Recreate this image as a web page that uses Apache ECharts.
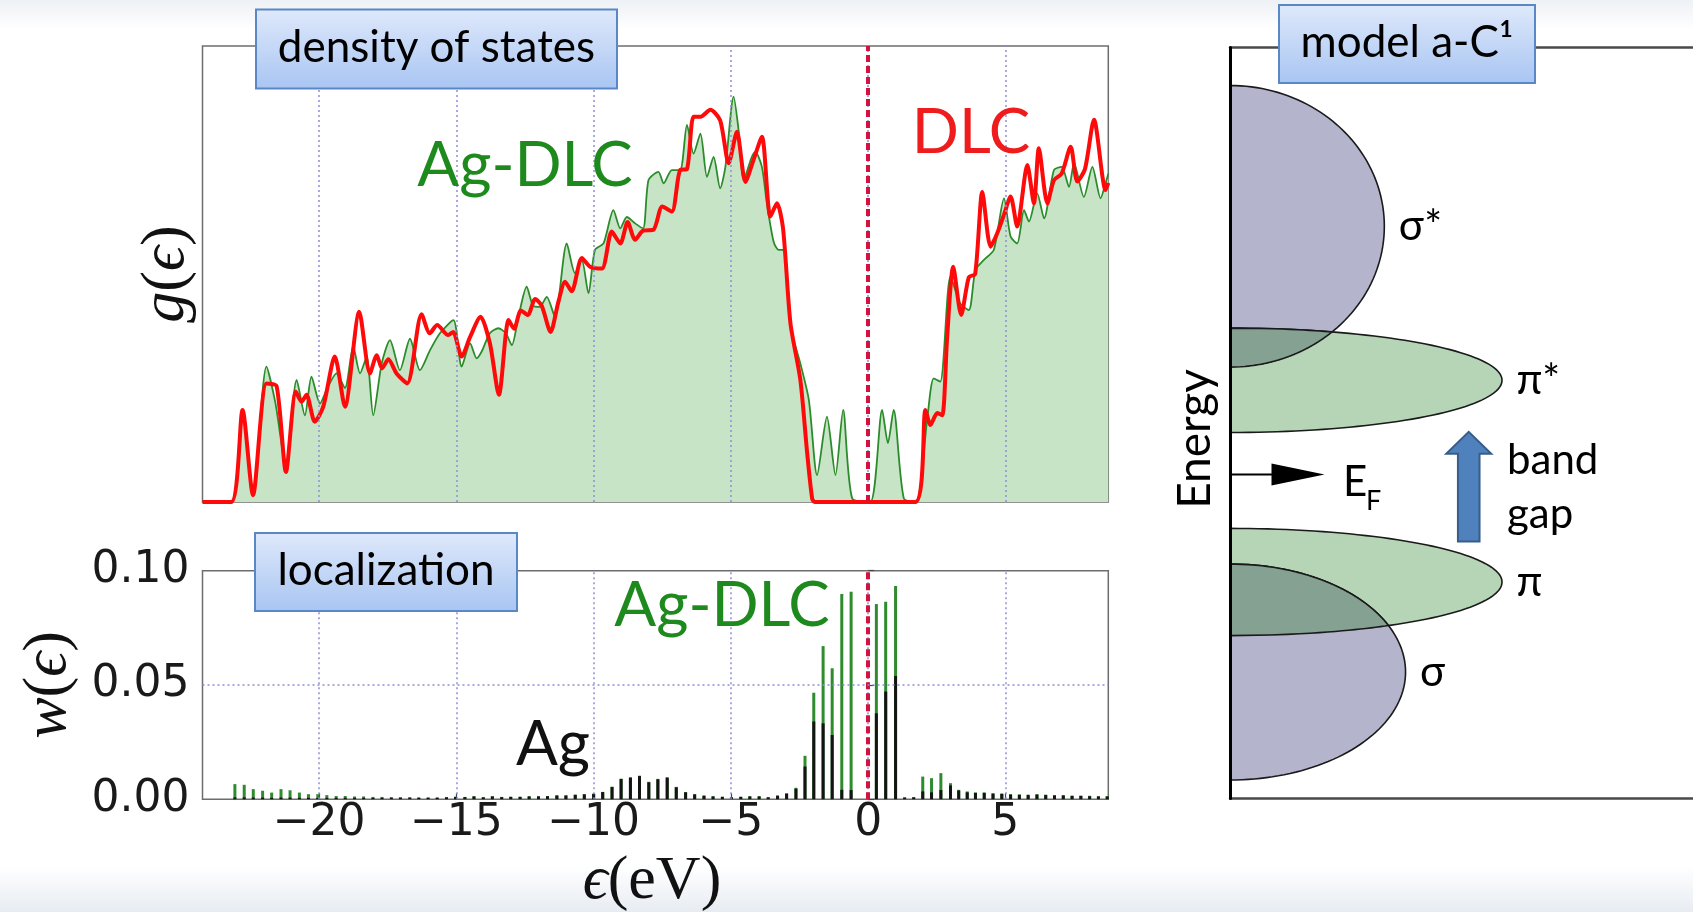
<!DOCTYPE html>
<html><head><meta charset="utf-8">
<script src="https://cdn.jsdelivr.net/npm/echarts@6/dist/echarts.min.js"></script>
<style>html,body{margin:0;padding:0;background:#fff}#c{width:1693px;height:912px}</style>
</head><body><div id="c"></div>
<script>
// ---------- data ----------
const xTicks = [-20, -15, -10, -5, 0, 5];
const wTicks = [0, 0.05, 0.10];

// DLC density of states (red)
const dlcE = [-24.25,-23.2,-22.79,-22.41,-21.92,-21.55,-21.21,-20.85,-20.64,-20.46,-20.16,-19.85,-19.43,-19.06,-18.54,-18.15,-17.9,-17.71,-17.48,-17.18,-16.79,-16.27,-15.97,-15.7,-15.3,-15.12,-14.81,-14.5,-14.12,-13.78,-13.45,-13.1,-12.9,-12.65,-12.4,-12.13,-11.89,-11.57,-11.28,-11.04,-10.8,-10.43,-10.13,-9.7,-9.34,-9.03,-8.76,-8.49,-8.2,-7.82,-7.5,-7.15,-6.85,-6.6,-6.36,-6.1,-5.75,-5.39,-5.08,-4.78,-4.47,-4.17,-3.87,-3.56,-3.32,-3.1,-2.83,-2.47,-2.22,-2.04,-1.95,1.72,2.09,2.27,2.52,2.7,2.88,3.1,3.39,3.67,3.9,4.16,4.46,4.7,4.95,5.19,5.43,5.8,6.04,6.22,6.53,6.77,7.05,7.38,7.62,7.9,8.23,8.65,8.75];
const dlcG = [0,0,0.202,0.015,0.26,0.254,0.066,0.242,0.22,0.235,0.176,0.209,0.319,0.209,0.417,0.282,0.322,0.293,0.313,0.282,0.26,0.412,0.37,0.388,0.366,0.373,0.319,0.362,0.406,0.348,0.235,0.399,0.38,0.42,0.41,0.445,0.43,0.373,0.44,0.483,0.462,0.535,0.516,0.512,0.593,0.567,0.614,0.575,0.595,0.597,0.648,0.637,0.728,0.73,0.845,0.845,0.86,0.837,0.743,0.812,0.702,0.751,0.801,0.626,0.655,0.6,0.392,0.268,0.107,0.008,0,0,0.202,0.169,0.195,0.19,0.362,0.516,0.41,0.493,0.5,0.68,0.56,0.589,0.63,0.67,0.604,0.739,0.655,0.776,0.655,0.706,0.72,0.779,0.703,0.73,0.838,0.684,0.7];

// Ag-DLC density of states (green, filled)
const agdlcE = [-24.25,-23.2,-22.79,-22.41,-21.92,-21.6,-21.21,-20.82,-20.52,-20.28,-19.97,-19.7,-19.37,-19.06,-18.76,-18.51,-18.27,-18.03,-17.72,-17.42,-17.06,-16.69,-16.33,-15.96,-15.6,-15.11,-14.81,-14.5,-14.26,-14.08,-13.78,-13.47,-13.2,-12.98,-12.74,-12.44,-12.2,-11.96,-11.71,-11.41,-10.98,-10.68,-10.43,-10.19,-9.95,-9.64,-9.28,-9.03,-8.79,-8.49,-8.2,-8.0,-7.64,-7.45,-7.15,-6.85,-6.6,-6.36,-6.11,-5.87,-5.63,-5.39,-5.2,-4.9,-4.72,-4.53,-4.25,-4.11,-3.87,-3.69,-3.44,-3.26,-3.08,-2.83,-2.47,-2.16,-1.86,-1.5,-1.19,-0.91,-0.58,0.08,0.51,0.72,0.93,1.3,1.75,2.15,2.39,2.63,3.0,3.36,3.67,3.91,4.22,4.58,4.95,5.19,5.43,5.68,5.86,6.16,6.41,6.77,7.05,7.32,7.5,7.86,8.17,8.47,8.65,8.75];
const agdlcG = [0,0,0.2,0.02,0.297,0.219,0.08,0.268,0.19,0.275,0.216,0.25,0.282,0.25,0.341,0.282,0.318,0.19,0.304,0.355,0.289,0.358,0.289,0.333,0.37,0.399,0.297,0.348,0.315,0.33,0.37,0.381,0.37,0.344,0.406,0.472,0.43,0.428,0.45,0.406,0.567,0.502,0.53,0.458,0.553,0.567,0.64,0.6,0.625,0.611,0.6,0.706,0.724,0.699,0.728,0.728,0.827,0.764,0.808,0.713,0.757,0.688,0.735,0.889,0.816,0.706,0.755,0.768,0.735,0.655,0.57,0.553,0.553,0.384,0.304,0.224,0.059,0.187,0.059,0.202,0.008,0,0.202,0.129,0.202,0.008,0,0.18,0.271,0.264,0.494,0.435,0.421,0.509,0.531,0.553,0.666,0.582,0.567,0.64,0.615,0.677,0.622,0.728,0.735,0.691,0.743,0.669,0.735,0.666,0.699,0.72];

// localization sticks
const stickE = [-23.07,-22.73,-22.40,-22.06,-21.73,-21.39,-21.06,-20.72,-20.39,-20.05,-19.72,-19.38,-19.05,-18.71,-18.38,-18.04,-17.71,-17.37,-17.04,-16.70,-16.37,-16.03,-15.70,-15.36,-15.03,-14.69,-14.36,-14.02,-13.69,-13.35,-13.02,-12.68,-12.35,-12.01,-11.68,-11.34,-11.01,-10.67,-10.34,-10.00,-9.67,-9.33,-9.00,-8.66,-8.33,-7.99,-7.66,-7.32,-6.99,-6.65,-6.32,-5.98,-5.65,-5.31,-4.98,-4.64,-4.31,-3.97,-3.64,-3.30,-2.97,-2.63,-2.30,-1.98,-1.64,-1.31,-0.96,-0.62,0.30,0.64,1.00,1.33,1.66,1.99,2.31,2.65,3.00,3.30,3.61,3.91,4.23,4.55,4.87,5.19,5.51,5.83,6.15,6.47,6.79,7.11,7.43,7.75,8.07,8.39,8.71];
const stickAgDLC = [0.0066,0.0063,0.0044,0.0037,0.0029,0.0044,0.0039,0.0029,0.0022,0.0022,0.0018,0.0014,0.0014,0.0012,0.0012,0.0010,0.0010,0.0009,0.0009,0.0009,0.0008,0.0008,0.0008,0.0009,0.0011,0.0010,0.0013,0.0009,0.0013,0.0010,0.0011,0.0011,0.0013,0.0013,0.0014,0.0017,0.0017,0.0020,0.0022,0.0024,0.0032,0.0055,0.0090,0.0096,0.0103,0.0076,0.0089,0.0096,0.0054,0.0031,0.0022,0.0016,0.0013,0.0011,0.0009,0.0011,0.0013,0.0013,0.0009,0.0016,0.0026,0.0050,0.0190,0.0466,0.0670,0.0573,0.0898,0.0908,0.0854,0.0864,0.0933,0.0008,0.0009,0.0099,0.0092,0.0114,0.0070,0.0041,0.0034,0.0030,0.0030,0.0026,0.0025,0.0022,0.0021,0.0020,0.0022,0.0020,0.0018,0.0018,0.0016,0.0016,0.0015,0.0013,0.0013];
const stickAg = [0.0008,0.0008,0.0007,0.0007,0.0006,0.0007,0.0007,0.0006,0.0006,0.0006,0.0006,0.0006,0.0006,0.0006,0.0006,0.0006,0.0006,0.0006,0.0006,0.0006,0.0006,0.0006,0.0006,0.0008,0.0010,0.0009,0.0012,0.0008,0.0012,0.0009,0.0010,0.0010,0.0012,0.0012,0.0013,0.0016,0.0016,0.0019,0.0021,0.0023,0.0031,0.0053,0.0088,0.0094,0.0101,0.0074,0.0087,0.0094,0.0052,0.0030,0.0021,0.0015,0.0012,0.0010,0.0008,0.0010,0.0012,0.0012,0.0008,0.0015,0.0024,0.0046,0.0143,0.0340,0.0332,0.0281,0.0041,0.0040,0.0376,0.0471,0.0539,0.0007,0.0008,0.0034,0.0030,0.0040,0.0060,0.0038,0.0030,0.0027,0.0027,0.0024,0.0023,0.0020,0.0019,0.0018,0.0020,0.0018,0.0016,0.0016,0.0014,0.0014,0.0013,0.0012,0.0012];

// model a-C band scheme (energy in arbitrary units, width in arbitrary units)
const bandLabel = ['σ*', 'π*', 'π', 'σ'];
const bandKind = ['sigma', 'pi', 'pi', 'sigma'];
const bandCenter = [572.2, 418.2, 216.5, 126.5];
const bandHalfHeight = [140.8, 52.2, 53.6, 108];
const bandExtent = [160, 282, 282, 182];
const overlapPairs = [[0, 1], [2, 3]];
const fermiLevel = [324];
const gapArrow = [257, 366.7];

// ---------- styles ----------
const UI = 'Lato, "Open Sans", sans-serif';
const SERIF = '"Liberation Serif", "DejaVu Serif", serif';
const GRID_DOT = {color: '#8f8fd8', width: 1.5, type: [2, 3]};
const RED_DASH = {color: '#d3123f', width: 4, type: [7, 4]};
const minus = v => String(v).replace('-', '\u2212');

const chart = echarts.init(document.getElementById('c'), null, {renderer: 'canvas'});

function vGridMarks() {
  const d = xTicks.map(v => ({xAxis: v, lineStyle: GRID_DOT}));
  d.push({xAxis: 0, lineStyle: RED_DASH});
  return d;
}

function renderBand(params, api) {
  const c = api.value(0), b = api.value(1), a = api.value(2), idx = api.value(3);
  const pts = [];
  for (let k = 0; k <= 90; k++) {
    const t = -Math.PI / 2 + Math.PI * k / 90;
    pts.push(api.coord([a * Math.cos(t), c + b * Math.sin(t)]));
  }
  const lab = api.coord([a + 15, c]);
  return {type: 'group', children: [
    {type: 'polygon', shape: {points: pts},
     style: {fill: bandKind[idx] === 'sigma' ? '#b4b4cc' : '#b6d4b6', stroke: '#1a1a1a', lineWidth: 1.6}},
    {type: 'text', x: lab[0], y: lab[1],
     style: {text: bandLabel[idx], fontSize: 42, fontFamily: UI, fill: '#000', align: 'left', verticalAlign: 'middle'}}
  ]};
}
function halfWidth(k, y) {
  const u = (y - bandCenter[k]) / bandHalfHeight[k];
  return bandExtent[k] * Math.sqrt(Math.max(0, 1 - u * u));
}
function renderOverlap(params, api) {
  const i = api.value(0), j = api.value(1);
  const lo = Math.max(bandCenter[i] - bandHalfHeight[i], bandCenter[j] - bandHalfHeight[j]);
  const hi = Math.min(bandCenter[i] + bandHalfHeight[i], bandCenter[j] + bandHalfHeight[j]);
  const pts = [api.coord([0, lo])];
  for (let s = 0; s <= 120; s++) {
    const y = lo + (hi - lo) * s / 120;
    pts.push(api.coord([Math.min(halfWidth(i, y), halfWidth(j, y)), y]));
  }
  pts.push(api.coord([0, hi]));
  return {type: 'polygon', shape: {points: pts}, style: {fill: '#84a192', stroke: '#1a1a1a', lineWidth: 1.6}};
}
function renderFermi(params, api) {
  const y = api.value(0);
  const p0 = api.coord([0, y]), p1 = api.coord([43, y]), tip = api.coord([98, y]);
  return {type: 'group', children: [
    {type: 'line', shape: {x1: p0[0], y1: p0[1], x2: p1[0] + 2, y2: p1[1]}, style: {stroke: '#000', lineWidth: 2}},
    {type: 'polygon', shape: {points: [[p1[0], p1[1] - 11], [tip[0], tip[1]], [p1[0], p1[1] + 11]]}, style: {fill: '#000'}}
  ]};
}
function renderGap(params, api) {
  const y0 = api.value(0), y1 = api.value(1);
  const xc = 247.5;
  const b = api.coord([xc, y0]), t = api.coord([xc, y1]);
  const hb = t[1] + 22, sx = 10.8, hx = 22.5;
  return {type: 'polygon', shape: {points: [
    [b[0] - sx, b[1]], [b[0] - sx, hb], [b[0] - hx, hb], [t[0], t[1]], [b[0] + hx, hb], [b[0] + sx, hb], [b[0] + sx, b[1]]
  ]}, style: {fill: '#4f81bd', stroke: '#385d8a', lineWidth: 2}};
}

function titleBox(x, y, w, h, text) {
  return {type: 'group', z: 100, children: [
    {type: 'rect', z: 100, shape: {x: x, y: y, width: w, height: h},
     style: {fill: new echarts.graphic.LinearGradient(0, 0, 0, 1, [{offset: 0, color: '#dfe9fb'}, {offset: 1, color: '#a8c5f2'}]),
             stroke: '#5a87c6', lineWidth: 2}},
    {type: 'text', z: 101, x: x + w / 2, y: y + h / 2 - 1,
     style: {text: text, fontSize: 44, fontFamily: UI, fill: '#000', align: 'center', verticalAlign: 'middle',
             textAlign: 'center', textVerticalAlign: 'middle'}}
  ]};
}
function label(x, y, text, size, color, extra) {
  return Object.assign({type: 'text', x: x, y: y, z: 50,
    style: {text: text, fontSize: size, fontFamily: UI, fill: color, align: 'center', verticalAlign: 'middle',
            textAlign: 'center', textVerticalAlign: 'middle'}}, extra || {});
}
function mathLabel(x, y, parts, rot) {
  const rich = {
    i: {fontSize: 62, fontFamily: SERIF, fontStyle: 'italic', fill: '#111'},
    n: {fontSize: 62, fontFamily: SERIF, fill: '#111'}
  };
  return {type: 'text', x: x, y: y, rotation: rot || 0, z: 50,
    style: {text: parts, rich: rich, align: 'center', verticalAlign: 'middle', textAlign: 'center', textVerticalAlign: 'middle'}};
}

const FRAME = {show: true, lineStyle: {color: '#4a4a4a', width: 2.5}};

const option = {
  backgroundColor: '#ffffff',
  animation: false,
  grid: [
    {left: 202.5, top: 46, width: 905.8, height: 456, show: true, borderColor: '#6d6d6d', borderWidth: 1.5},
    {left: 202.5, top: 570.7, width: 905.8, height: 228.5, show: true, borderColor: '#6d6d6d', borderWidth: 1.5},
    {left: 1230, top: 47.5, width: 480, height: 751, show: false}
  ],
  xAxis: [
    {type: 'value', gridIndex: 0, min: -24.25, max: 8.75, axisLine: {show: false},
     axisTick: {show: true, inside: true, length: 6, customValues: xTicks, lineStyle: {color: '#444', width: 1.2}},
     axisLabel: {show: false}, splitLine: {show: false}},
    {type: 'value', gridIndex: 1, min: -24.25, max: 8.75, axisLine: {show: false},
     axisTick: {show: true, inside: true, length: 6, customValues: xTicks, lineStyle: {color: '#444', width: 1.2}},
     axisLabel: {show: true, customValues: xTicks, formatter: minus, fontSize: 44, fontFamily: '"DejaVu Sans", sans-serif', color: '#1a1a1a', margin: 2},
     splitLine: {show: false}},
    {type: 'value', gridIndex: 2, min: 0, max: 480, position: 'bottom', axisLine: FRAME,
     axisTick: {show: false}, axisLabel: {show: false}, splitLine: {show: false}},
    {type: 'value', gridIndex: 2, min: 0, max: 480, position: 'top', axisLine: FRAME,
     axisTick: {show: false}, axisLabel: {show: false}, splitLine: {show: false}}
  ],
  yAxis: [
    {type: 'value', gridIndex: 0, min: 0, max: 1, axisLine: {show: false}, axisTick: {show: false}, axisLabel: {show: false}, splitLine: {show: false}},
    {type: 'value', gridIndex: 1, min: 0, max: 0.1, interval: 0.05, axisLine: {show: false},
     axisTick: {show: true, inside: true, length: 6, lineStyle: {color: '#444', width: 1.2}},
     axisLabel: {formatter: v => v.toFixed(2), fontSize: 44, fontFamily: '"DejaVu Sans", sans-serif', color: '#1a1a1a', margin: 13},
     splitLine: {show: false}},
    {type: 'value', gridIndex: 2, min: 0, max: 751, z: 10, axisLine: {show: true, lineStyle: {color: '#000', width: 3}},
     axisTick: {show: false}, axisLabel: {show: false}, splitLine: {show: false}}
  ],
  series: [
    {type: 'line', name: 'Ag-DLC', xAxisIndex: 0, yAxisIndex: 0, z: 2,
     data: agdlcE.map((e, i) => [e, agdlcG[i]]), showSymbol: false, smooth: 0.25,
     lineStyle: {color: '#2b8c2b', width: 1.8}, areaStyle: {color: '#c7e4c7', opacity: 1},
     markLine: {silent: true, symbol: ['none', 'none'], label: {show: false}, data: vGridMarks()}},
    {type: 'line', name: 'DLC', xAxisIndex: 0, yAxisIndex: 0, z: 3,
     data: dlcE.map((e, i) => [e, dlcG[i]]), showSymbol: false, smooth: 0.25,
     lineStyle: {color: '#ff0a0a', width: 4}},
    {type: 'bar', name: 'Ag-DLC w', xAxisIndex: 1, yAxisIndex: 1, z: 2, barWidth: 3, barGap: '-100%',
     data: stickE.map((e, i) => [e, stickAgDLC[i]]), itemStyle: {color: '#2e8b2e'},
     markLine: {silent: true, symbol: ['none', 'none'], label: {show: false},
       data: vGridMarks().concat([{yAxis: 0.05, lineStyle: GRID_DOT}])}},
    {type: 'bar', name: 'Ag w', xAxisIndex: 1, yAxisIndex: 1, z: 3, barWidth: 3, barGap: '-100%',
     data: stickE.map((e, i) => [e, stickAg[i]]), itemStyle: {color: '#141414'}},
    {type: 'custom', name: 'bands', xAxisIndex: 2, yAxisIndex: 2, z: 2, renderItem: renderBand,
     data: bandCenter.map((c, i) => [c, bandHalfHeight[i], bandExtent[i], i])},
    {type: 'custom', name: 'overlap', xAxisIndex: 2, yAxisIndex: 2, z: 3, renderItem: renderOverlap,
     data: overlapPairs},
    {type: 'custom', name: 'fermi', xAxisIndex: 2, yAxisIndex: 2, z: 4, renderItem: renderFermi,
     data: fermiLevel.map(v => [v])},
    {type: 'custom', name: 'gap', xAxisIndex: 2, yAxisIndex: 2, z: 4, renderItem: renderGap,
     data: [gapArrow]}
  ],
  graphic: [
    {type: 'rect', z: -10, shape: {x: 0, y: 0, width: 1693, height: 30},
     style: {fill: new echarts.graphic.LinearGradient(0, 0, 0, 1, [{offset: 0, color: '#eef1f5'}, {offset: 1, color: '#ffffff'}])}},
    {type: 'rect', z: -10, shape: {x: 0, y: 866, width: 1693, height: 46},
     style: {fill: new echarts.graphic.LinearGradient(0, 0, 0, 1, [{offset: 0, color: '#ffffff'}, {offset: 1, color: '#e7ecf2'}])}},
    titleBox(256, 9.5, 361, 79, 'density of states'),
    titleBox(255, 533, 262, 78, 'localization'),
    titleBox(1279, 5, 256, 78, 'model a-C¹'),
    label(525, 166, 'Ag-DLC', 62, '#1e8a1e'),
    label(971, 133, 'DLC', 62, '#ee1c1c'),
    label(722, 606, 'Ag-DLC', 62, '#1e8a1e'),
    label(553, 745, 'Ag', 62, '#111'),
    label(1195, 439, 'Energy', 46, '#000', {rotation: Math.PI / 2}),
    {type: 'text', x: 1507, y: 460, z: 50, style: {text: 'band', fontSize: 42, fontFamily: UI, fill: '#000', align: 'left', verticalAlign: 'middle', textAlign: 'left', textVerticalAlign: 'middle'}},
    {type: 'text', x: 1507, y: 514, z: 50, style: {text: 'gap', fontSize: 42, fontFamily: UI, fill: '#000', align: 'left', verticalAlign: 'middle', textAlign: 'left', textVerticalAlign: 'middle'}},
    {type: 'text', x: 1343, y: 482, z: 50, style: {text: 'E', fontSize: 42, fontFamily: UI, fill: '#000', align: 'left', verticalAlign: 'middle', textAlign: 'left', textVerticalAlign: 'middle'}},
    {type: 'text', x: 1366, y: 501, z: 50, style: {text: 'F', fontSize: 27, fontFamily: UI, fill: '#000', align: 'left', verticalAlign: 'middle', textAlign: 'left', textVerticalAlign: 'middle'}},
    mathLabel(167, 274, '{i|g}{n|(}{i|ϵ}{n|)}', Math.PI / 2),
    mathLabel(49, 685, '{i|w}{n|(}{i|ϵ}{n|)}', Math.PI / 2),
    mathLabel(652, 882, '{i|ϵ}{n|(eV)}', 0)
  ]
};
chart.setOption(option);
</script>
</body></html>
